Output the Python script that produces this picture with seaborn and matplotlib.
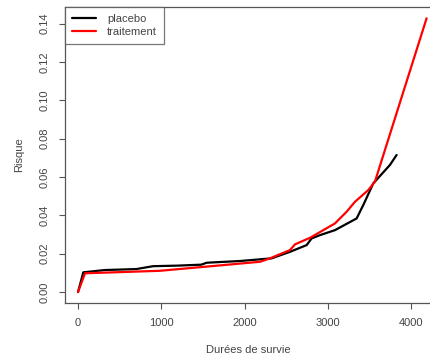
import matplotlib
matplotlib.use("Agg")
import matplotlib.pyplot as plt
import seaborn as sns
import pandas as pd
from matplotlib.lines import Line2D

# Data
placebo_t = [0, 64, 324, 700, 900, 1200, 1480, 1544, 1945, 2325, 2545, 2745, 2805, 2905, 3085, 3345, 3425, 3545, 3745, 3825]
placebo_r = [0.0, 0.0103, 0.0115, 0.0120, 0.0135, 0.0138, 0.0143, 0.0153, 0.0162, 0.0176, 0.021, 0.0245, 0.028, 0.0297, 0.0323, 0.0384, 0.0454, 0.0567, 0.0663, 0.0715]
trait_t = [0, 84, 984, 2185, 2305, 2545, 2605, 2785, 3085, 3225, 3325, 3485, 3565, 4185]
trait_r = [0.0, 0.0098, 0.0111, 0.0158, 0.0176, 0.0219, 0.0249, 0.0283, 0.0358, 0.0419, 0.0471, 0.0532, 0.0576, 0.1428]
groups = ["placebo", "traitement"]
colors = ["black", "red"]
xticks = [0, 1000, 2000, 3000, 4000]
yticks = [0.00, 0.02, 0.04, 0.06, 0.08, 0.10, 0.12, 0.14]

df = pd.concat([
    pd.DataFrame({"t": placebo_t, "r": placebo_r, "g": groups[0]}),
    pd.DataFrame({"t": trait_t, "r": trait_r, "g": groups[1]}),
])

sns.set_style("white")
plt.rcParams["font.family"] = ["Liberation Sans", "DejaVu Sans"]

W, H = 431, 355
fig = plt.figure(figsize=(W / 100, H / 100), dpi=100)
ax = fig.add_axes([65 / W, (H - 303) / H, (431 - 65) / W, (303 - 7) / H])

lw = 1.6
sns.lineplot(data=df, x="t", y="r", hue="g", palette=dict(zip(groups, colors)),
             estimator=None, sort=False, linewidth=lw, ax=ax, legend=False)

ax.set_xlim(-156, 4238)
ax.set_ylim(-0.0057, 0.1487)
ax.set_xticks(xticks)
ax.set_xticklabels([str(v) for v in xticks])
ax.set_yticks(yticks)
ax.set_yticklabels([f"{v:.2f}" for v in yticks], rotation=90, va="center")

tc = "#444444"
fs = 8
ax.tick_params(axis="both", direction="out", length=4, width=0.8, color="#555555",
               labelsize=fs, labelcolor=tc, bottom=True, left=True)
ax.tick_params(axis="x", pad=7)
ax.tick_params(axis="y", pad=7)
for s in ["left", "bottom", "top"]:
    ax.spines[s].set_color("#555555")
    ax.spines[s].set_linewidth(0.9)
ax.spines["right"].set_visible(False)

ax.set_xlabel("Durées de survie", fontsize=fs, color=tc, labelpad=12)
ax.set_ylabel("Risque", fontsize=fs, color=tc, labelpad=11)

handles = [Line2D([], [], color=c, linewidth=lw) for c in colors]
leg = ax.legend(handles, groups, loc="upper left", bbox_to_anchor=(0, 1), borderaxespad=0,
                fontsize=fs, frameon=True, fancybox=False, handlelength=2.2,
                handletextpad=1.0, labelspacing=0.3, borderpad=0.6)
leg.get_frame().set_edgecolor("#555555")
leg.get_frame().set_linewidth(0.9)
for t in leg.get_texts():
    t.set_color(tc)

fig.savefig("out.png", dpi=100)
